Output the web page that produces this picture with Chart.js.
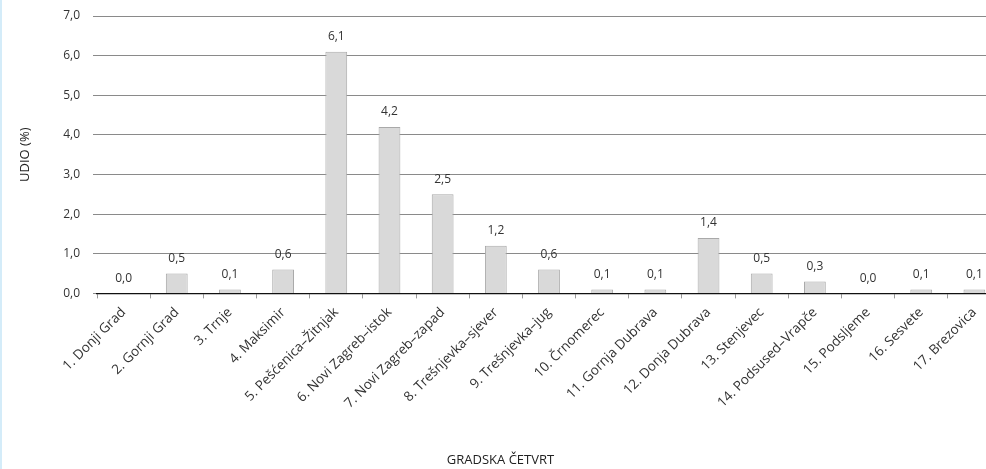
<!DOCTYPE html>
<html>
<head>
<meta charset="utf-8">
<script src="https://cdn.jsdelivr.net/npm/chart.js@4"></script>
<style>
  html, body { margin: 0; padding: 0; background: #fff; overflow: hidden; }
  #strip { position: absolute; left: 0; top: 0; width: 2px; height: 469px; background: #d4ecf9; }
  canvas { display: block; }
</style>
</head>
<body>
<div id="strip"></div>
<canvas id="barChart" width="1001" height="469"></canvas>
<script>
var categories = [
  "1. Donji Grad", "2. Gornji Grad", "3. Trnje", "4. Maksimir",
  "5. Pešćenica–Žitnjak", "6. Novi Zagreb–istok", "7. Novi Zagreb–zapad",
  "8. Trešnjevka–sjever", "9. Trešnjevka–jug", "10. Črnomerec",
  "11. Gornja Dubrava", "12. Donja Dubrava", "13. Stenjevec",
  "14. Podsused–Vrapče", "15. Podsljeme", "16. Sesvete", "17. Brezovica"
];
var shares = [0.0, 0.5, 0.1, 0.6, 6.1, 4.2, 2.5, 1.2, 0.6, 0.1, 0.1, 1.4, 0.5, 0.3, 0.0, 0.1, 0.1];
var yMin = 0, yMax = 7, yStep = 1;

var fontName = "'Open Sans', 'Noto Sans', sans-serif";

function comma(v, d) {
  return Number(v).toFixed(d).replace(".", ",");
}

// value labels above the bars
var valueLabels = {
  id: "valueLabels",
  afterDatasetsDraw: function (chart) {
    var ctx = chart.ctx;
    var meta = chart.getDatasetMeta(0);
    ctx.save();
    ctx.font = "12px " + fontName;
    ctx.fillStyle = "#333";
    ctx.textAlign = "center";
    ctx.textBaseline = "middle";
    meta.data.forEach(function (bar, i) {
      ctx.fillText(comma(shares[i], 1), bar.x, bar.y - 15);
    });
    ctx.restore();
  }
};

new Chart(document.getElementById("barChart"), {
  type: "bar",
  data: {
    labels: categories,
    datasets: [{
      data: shares,
      backgroundColor: "#d9d9d9",
      borderColor: "#a9a9a9",
      borderWidth: 1,
      barPercentage: 0.41,
      categoryPercentage: 1.0
    }]
  },
  options: {
    responsive: false,
    animation: false,
    layout: { padding: { top: 16, right: 0, left: 0, bottom: 0 } },
    plugins: {
      legend: { display: false },
      tooltip: { enabled: false },
      title: {
        display: true,
        position: "bottom",
        text: "GRADSKA ČETVRT",
        color: "#222",
        font: { family: fontName, size: 13, weight: "normal" },
        padding: { top: 0, bottom: 1 }
      }
    },
    scales: {
      x: {
        grid: {
          offset: true,
          drawOnChartArea: false,
          tickLength: 5,
          color: "#999"
        },
        border: { color: "#111", width: 1.2 },
        ticks: {
          color: "#333",
          font: { family: fontName, size: 13.5 },
          minRotation: 45,
          maxRotation: 45,
          autoSkip: false,
          padding: 6
        },
        afterFit: function (scale) {
          scale.height = 159;
          scale.paddingTop = 0;
          scale.paddingBottom = 0;
        }
      },
      y: {
        min: yMin,
        max: yMax,
        grid: { color: "#8a8a8a", tickLength: 4 },
        border: { display: false },
        ticks: {
          stepSize: yStep,
          color: "#333",
          padding: 13,
          font: { family: fontName, size: 12 },
          callback: function (v) { return comma(v, 1); }
        },
        title: {
          display: true,
          text: "UDIO (%)",
          color: "#222",
          font: { family: fontName, size: 13 },
          padding: { top: 17, bottom: 0 }
        },
        afterFit: function (scale) {
          scale.width = 97;
          scale.paddingTop = 0;
          scale.paddingBottom = 0;
        }
      }
    }
  },
  plugins: [valueLabels]
});
</script>
</body>
</html>
